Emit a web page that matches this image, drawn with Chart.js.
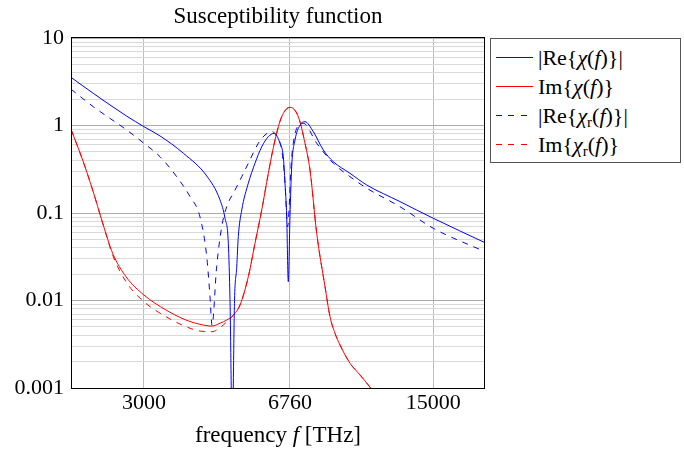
<!DOCTYPE html>
<html>
<head>
  <title>Susceptibility function</title>
  <script src="https://cdn.jsdelivr.net/npm/chart.js"></script>
  <style>
    body {
      margin: 0;
      background-color: white;
    }

    .chart-wrap {
      position: relative;
      width: 684px;
      height: 449px;
      font-family: 'Liberation Serif', 'Times New Roman', serif;
      color: black;
    }

    .x-label {
      position: absolute;
      left: 71px;
      width: 414px;
      top: 424px;
      text-align: center;
      font-size: 23px;
      line-height: 22px;
    }

    .legend {
      position: absolute;
      left: 490px;
      top: 38px;
      width: 191px;
      height: 125px;
      box-sizing: border-box;
      border: 1px solid #555;
      background: white;
      padding-top: 4px;
    }

    .legend-row {
      display: flex;
      align-items: center;
      height: 29px;
      font-size: 22px;
      white-space: nowrap;
    }

    .swatch {
      width: 37px;
      height: 1px;
      margin-left: 5px;
      margin-right: 5px;
    }

    .sub {
      font-size: 15px;
      position: relative;
      top: 4px;
    }
  </style>
</head>
<body>
  <div class="chart-wrap">
    <canvas id="suscChart" width="684" height="449"></canvas>
    <div class="x-label">frequency <i>f</i> [THz]</div>
    <div class="legend">
      <div class="legend-row"><div class="swatch" style="background:#0000ff"></div><span>|Re{<i>χ</i>(<i>f</i>)}|</span></div>
      <div class="legend-row"><div class="swatch" style="background:#ff0000"></div><span>Im{<i>χ</i>(<i>f</i>)}</span></div>
      <div class="legend-row"><div class="swatch" style="background:repeating-linear-gradient(to right,#0000ff 0 6px,transparent 6px 12.5px)"></div><span>|Re{<i>χ</i><span class="sub">r</span>(<i>f</i>)}|</span></div>
      <div class="legend-row"><div class="swatch" style="background:repeating-linear-gradient(to right,#ff0000 0 6px,transparent 6px 12.5px)"></div><span>Im{<i>χ</i><span class="sub">r</span>(<i>f</i>)}</span></div>
    </div>
  </div>

  <script>
    // frequency in THz
    const reFreq = [2000, 2264, 2726, 3000, 3281, 3740, 4255, 4581, 4710, 4798, 4843, 4905, 4966, 5027, 5072, 5169, 5362, 5565, 5777, 5993, 6196, 6395, 6514, 6576, 6638, 6697, 6761, 6825, 6952, 7148, 7350, 7697, 8137, 8602, 9440, 10359, 12465, 15000, 20000];
    const reVals = [3.55, 2.33, 1.28, 0.97, 0.76, 0.48, 0.265, 0.141, 0.087, 0.045, 0.010, 0.0003, 0.010, 0.024, 0.054, 0.108, 0.219, 0.37, 0.57, 0.745, 0.815, 0.626, 0.44, 0.219, 0.091, 0.0164, 0.091, 0.338, 0.683, 1.01, 1.105, 0.85, 0.525, 0.386, 0.284, 0.209, 0.135, 0.087, 0.0458];

    const imFreq = [2000, 2134, 2256, 2386, 2522, 2716, 3000, 3393, 3791, 4099, 4382, 4581, 4755, 4933, 5120, 5362, 5565, 5777, 5993, 6220, 6456, 6761, 7081, 7350, 7557, 7844, 8215, 8446, 8684, 8929, 9440, 9980, 10551, 11133];
    const imVals = [0.905, 0.403, 0.183, 0.0763, 0.0346, 0.0187, 0.01156, 0.00779, 0.00598, 0.00534, 0.0051, 0.0055, 0.00598, 0.0068, 0.00888, 0.0187, 0.0451, 0.108, 0.284, 0.683, 1.26, 1.615, 1.26, 0.626, 0.31, 0.0586, 0.01438, 0.00653, 0.00422, 0.0031, 0.00192, 0.00141, 0.00102, 0.0007];

    const reRFreq = [2000, 2264, 2726, 3000, 3281, 3600, 3877, 4099, 4255, 4333, 4382, 4496, 4625, 4755, 4980, 5169, 5362, 5668, 5883, 6117, 6279, 6456, 6576, 6638, 6675, 6724, 6799, 6886, 7018, 7280, 7844, 8602, 9440, 10359, 12465, 15000, 20000];
    const reRVals = [2.6, 1.64, 0.888, 0.626, 0.44, 0.26, 0.154, 0.09, 0.0317, 0.011, 0.0052, 0.0243, 0.0697, 0.118, 0.183, 0.26, 0.37, 0.626, 0.779, 0.854, 0.745, 0.525, 0.219, 0.091, 0.0697, 0.108, 0.338, 0.626, 0.929, 1.06, 0.626, 0.37, 0.26, 0.192, 0.118, 0.0669, 0.0361];

    const imRFreq = [2000, 2134, 2256, 2386, 2522, 2716, 3000, 3393, 3791, 4099, 4382, 4581, 4755, 4933, 5120, 5362, 5565, 5777, 5993, 6220, 6456, 6761, 7081, 7350, 7557, 7844, 8215, 8446, 8684, 8929, 9440, 9980, 10551, 11133];
    const imRVals = [0.905, 0.403, 0.183, 0.0763, 0.033, 0.0164, 0.00969, 0.00653, 0.00502, 0.00447, 0.0044, 0.0049, 0.0057, 0.0068, 0.00888, 0.0187, 0.0451, 0.108, 0.284, 0.683, 1.26, 1.615, 1.26, 0.626, 0.31, 0.0586, 0.01438, 0.00653, 0.00422, 0.0031, 0.00192, 0.00141, 0.00102, 0.0007];

    const xTicks = [3000, 6760, 15000];
    const yTickLabels = ['0.001', '0.01', '0.1', '1', '10'];

    const serif = "'Liberation Serif', 'Times New Roman', serif";

    function points(xs, ys) {
      return xs.map((x, i) => ({ x: x, y: ys[i] }));
    }

    function series(xs, ys, color, dash) {
      return {
        data: points(xs, ys),
        borderColor: color,
        borderWidth: 1,
        borderDash: dash,
        pointRadius: 0,
        fill: false,
        cubicInterpolationMode: 'monotone'
      };
    }

    // black box round the plot area, like pgfplots
    const frame = {
      id: 'frame',
      afterDraw(chart) {
        const a = chart.chartArea;
        const ctx = chart.ctx;
        ctx.save();
        ctx.strokeStyle = '#000';
        ctx.lineWidth = 1;
        ctx.strokeRect(Math.round(a.left) + 0.5, Math.round(a.top) - 0.5, Math.round(a.right - a.left) - 1, Math.round(a.bottom - a.top) + 1);
        ctx.restore();
      }
    };

    const ctx = document.getElementById('suscChart').getContext('2d');
    const chart = new Chart(ctx, {
      type: 'line',
      data: {
        datasets: [
          series(reFreq, reVals, '#0000ff', []),
          series(imFreq, imVals, '#ff0000', []),
          series(reRFreq, reRVals, '#0000ff', [6, 6]),
          series(imRFreq, imRVals, '#ff0000', [6, 6])
        ]
      },
      options: {
        responsive: false,
        animation: false,
        devicePixelRatio: 1,
        layout: { padding: { left: 0, right: 199, top: 0, bottom: 0 } },
        scales: {
          x: {
            type: 'logarithmic',
            min: 2000,
            max: 20000,
            afterBuildTicks: scale => {
              scale.ticks = xTicks.map(v => ({ value: v }));
            },
            afterFit: scale => { scale.height = 61; },
            ticks: {
              autoSkip: false,
              maxRotation: 0,
              padding: 2,
              color: '#000',
              font: { family: serif, size: 22 },
              callback: value => String(value)
            },
            grid: { color: '#bdbdbd', drawTicks: false },
            border: { display: false }
          },
          y: {
            type: 'logarithmic',
            min: 0.001,
            max: 10,
            afterBuildTicks: scale => {
              const ticks = [];
              for (let e = -3; e <= 1; e++) {
                for (let m = 1; m <= 9; m++) {
                  const v = m * Math.pow(10, e);
                  if (v > 10.0001) break;
                  ticks.push({ value: v, major: m === 1 });
                }
              }
              scale.ticks = ticks;
            },
            afterFit: scale => { scale.width = 71; },
            ticks: {
              autoSkip: false,
              padding: 7,
              color: '#000',
              font: { family: serif, size: 22 },
              callback: function(value, index, ticks) {
                if (!ticks[index].major) return '';
                return yTickLabels[Math.round(Math.log10(value)) + 3];
              }
            },
            grid: {
              drawTicks: false,
              color: c => (c.tick && c.tick.major) ? '#ababab' : '#d9d9d9'
            },
            border: { display: false }
          }
        },
        plugins: {
          legend: { display: false },
          tooltip: { enabled: false },
          title: {
            display: true,
            text: 'Susceptibility function',
            fullSize: false,
            color: '#000',
            font: { family: serif, size: 23, weight: 'normal' },
            padding: { top: 3.5, bottom: 6.9 }
          }
        }
      },
      plugins: [frame]
    });
  </script>
</body>
</html>
